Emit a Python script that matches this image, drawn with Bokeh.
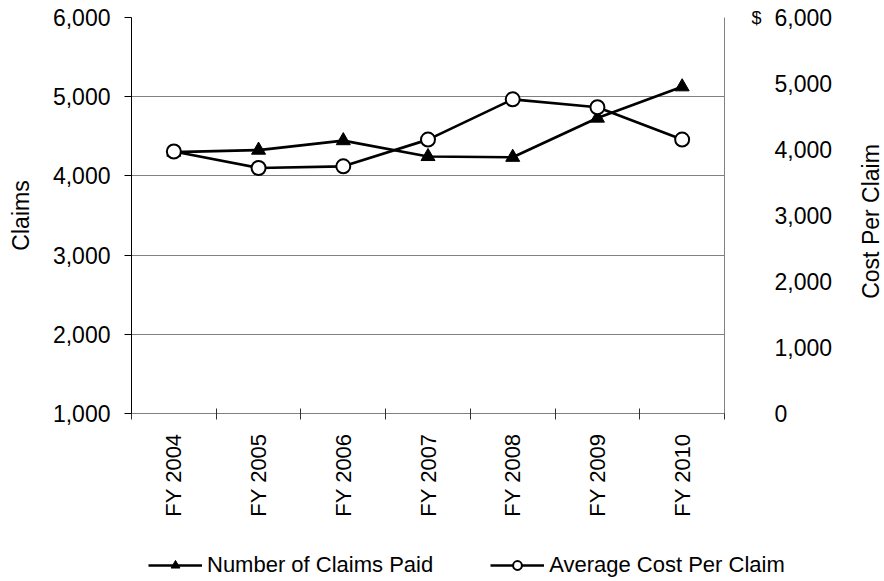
import math
from bokeh.plotting import figure
from bokeh.models import (Range1d, LinearAxis, FixedTicker, NumeralTickFormatter,
                          Legend, LegendItem)
from bokeh.embed import file_html
from bokeh.resources import INLINE

categories = ["FY 2004", "FY 2005", "FY 2006", "FY 2007", "FY 2008", "FY 2009", "FY 2010"]
claims_paid = [4300, 4325, 4445, 4245, 4235, 4730, 5125]
avg_cost = [3970, 3720, 3745, 4150, 4760, 4640, 4150]
left_ticks = [1000, 2000, 3000, 4000, 5000, 6000]
right_ticks = [0, 1000, 2000, 3000, 4000, 5000, 6000]
left_title = "Claims"
right_title = "Cost Per Claim"
currency = "$"
series_names = ["Number of Claims Paid", "Average Cost Per Claim"]

FONT = "Liberation Sans"
FS = "23px"
FRAME_H = 396
xs = [i + 0.5 for i in range(len(categories))]

p = figure(frame_width=593, frame_height=FRAME_H, output_backend="svg", toolbar_location=None,
           x_range=Range1d(0, len(categories)), y_range=Range1d(left_ticks[0], left_ticks[-1]),
           min_border_left=131, min_border_top=17, min_border_right=160, min_border_bottom=125)
p.extra_y_ranges = {"cost": Range1d(right_ticks[0], right_ticks[-1])}
p.outline_line_color = None
p.background_fill_color = "white"
p.border_fill_color = "white"

# x axis
xa = p.xaxis[0]
xa.ticker = FixedTicker(ticks=xs, minor_ticks=list(range(len(categories) + 1)))
xa.major_label_overrides = {x: c for x, c in zip(xs, categories)}
xa.major_tick_line_color = None
xa.minor_tick_in = 5
xa.minor_tick_out = 6
xa.minor_tick_line_color = "#303030"
xa.axis_line_color = "#808080"
xa.major_label_orientation = math.pi / 2
xa.major_label_standoff = 14
xa.major_label_text_font = FONT
xa.major_label_text_font_size = "22px"
xa.major_label_text_color = "black"

# left axis
ya = p.yaxis[0]
ya.ticker = FixedTicker(ticks=left_ticks)
ya.formatter = NumeralTickFormatter(format="0,0")
ya.minor_tick_line_color = None
ya.major_tick_in = 0
ya.major_tick_out = 7
ya.major_tick_line_color = "black"
ya.axis_line_color = "black"
ya.major_label_standoff = 14
ya.major_label_text_font = FONT
ya.major_label_text_font_size = FS
ya.major_label_text_color = "black"
ya.axis_label = left_title
ya.axis_label_text_font = FONT
ya.axis_label_text_font_style = "normal"
ya.axis_label_text_font_size = FS
ya.axis_label_text_color = "black"
ya.axis_label_standoff = 16


def plain_right_axis(ticks, standoff, size, line_color=None, overrides=None, orient=None):
    ax = LinearAxis(y_range_name="cost", ticker=FixedTicker(ticks=ticks),
                    formatter=NumeralTickFormatter(format="0,0"))
    ax.minor_tick_line_color = None
    ax.major_tick_line_color = None
    ax.major_tick_in = 0
    ax.major_tick_out = 0
    ax.axis_line_color = line_color
    ax.major_label_standoff = standoff
    ax.major_label_text_font = FONT
    ax.major_label_text_font_size = size
    ax.major_label_text_color = "black"
    if overrides:
        ax.major_label_overrides = overrides
    if orient is not None:
        ax.major_label_orientation = orient
    p.add_layout(ax, "right")
    return ax


# inner right axis: axis line and the currency sign at the top value
plain_right_axis([right_ticks[-1]], 27, "18px", line_color="#808080",
                 overrides={float(right_ticks[-1]): currency})
# numeric right axis labels
plain_right_axis(right_ticks, 10, FS)
# right axis title, reading bottom-to-top; rotated tick labels start at their tick,
# so shift the anchor down by half of the title's estimated length to centre it
mid = (right_ticks[0] + right_ticks[-1]) / 2
title_len_px = 6.72 * 23 + 12
anchor = mid - (title_len_px / 2) * (right_ticks[-1] - right_ticks[0]) / FRAME_H
plain_right_axis([anchor], 36, FS, overrides={float(anchor): right_title}, orient=math.pi / 2)

p.xgrid.grid_line_color = None
p.ygrid.grid_line_color = "#808080"
p.ygrid.grid_line_width = 1

line_kw = dict(line_color="black", line_width=2.7)
tri_kw = dict(marker="triangle", size=14, fill_color="black", line_color="black")
circ_kw = dict(marker="circle", size=14, fill_color="white", line_color="black", line_width=2)

p.line(xs, claims_paid, **line_kw)
p.scatter(xs, claims_paid, **tri_kw)
p.line(xs, avg_cost, y_range_name="cost", **line_kw)
p.scatter(xs, avg_cost, y_range_name="cost", **circ_kw)

# legend strip below the chart (separate root so its frame spans the full width)
lp = figure(width=884, height=40, output_backend="svg", toolbar_location=None,
            x_axis_location=None, y_axis_location=None, min_border=0,
            x_range=Range1d(0, 1), y_range=Range1d(0, 1))
lp.outline_line_color = None
lp.xgrid.grid_line_color = None
lp.ygrid.grid_line_color = None
nan = [float("nan")]
ll1 = lp.line(nan, nan, **line_kw)
ls1 = lp.scatter(nan, nan, **tri_kw)
ll2 = lp.line(nan, nan, **line_kw)
ls2 = lp.scatter(nan, nan, **circ_kw)

lg = Legend(items=[LegendItem(label=series_names[0], renderers=[ll1, ls1]),
                   LegendItem(label=series_names[1], renderers=[ll2, ls2])],
            location=(148, 0), orientation="horizontal")
lg.border_line_color = None
lg.background_fill_alpha = 0
lg.label_text_font = FONT
lg.label_text_font_size = "22px"
lg.label_text_color = "black"
lg.glyph_width = 54
lg.glyph_height = 22
lg.label_height = 22
lg.label_standoff = 5
lg.spacing = 57
lg.padding = 0
lg.margin = 0
lp.add_layout(lg)

open("out.html", "w").write(file_html([p, lp], INLINE))
